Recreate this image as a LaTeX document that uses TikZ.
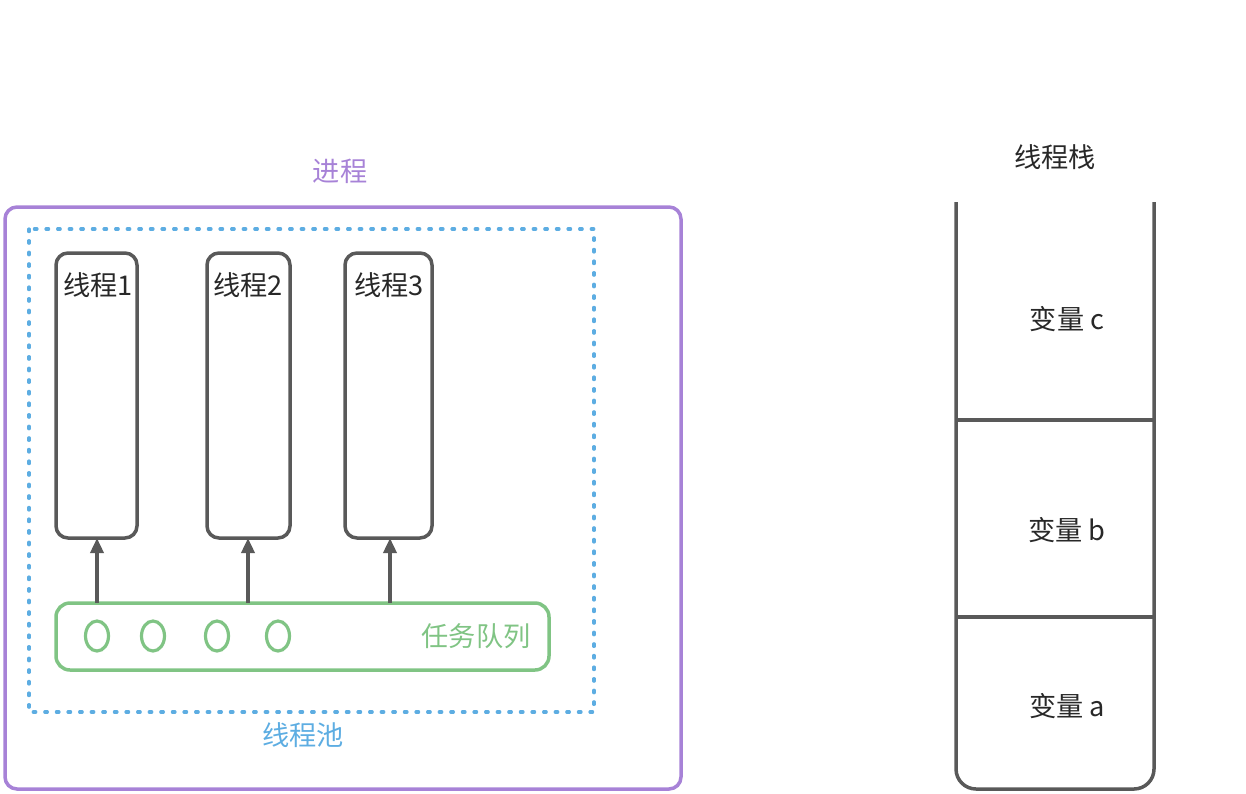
\documentclass[tikz,border=0pt]{standalone}
\usepackage{fontspec}
\setmainfont{Noto Sans CJK SC}
\usetikzlibrary{arrows.meta,shapes.geometric}
\definecolor{procpurple}{RGB}{167,130,215}
\definecolor{poolblue}{RGB}{93,173,226}
\definecolor{queuegreen}{RGB}{128,196,132}
\definecolor{linegray}{RGB}{89,89,89}
\definecolor{textgray}{RGB}{40,40,40}
\begin{document}
\begin{tikzpicture}[
    x=0.5pt, y=-0.5pt,
    thread/.style={draw=linegray, line width=1.75pt, rounded corners=6pt},
    lbl/.style={font=\fontsize{13.6pt}{15pt}\selectfont, text=#1, inner sep=0pt},
    arr/.style={-{Triangle[length=7.5pt,width=6.5pt]}, line width=1.75pt, linegray},
    job/.style={draw=queuegreen, line width=1.6pt, ellipse, minimum width=11.5pt, minimum height=15pt, inner sep=0pt},
]
\useasboundingbox (0,0) rectangle (1246,793);

% process and thread pool
\draw[procpurple, line width=1.75pt, rounded corners=6pt] (5,207) rectangle (681,789);
\node[lbl=procpurple] (proc) at (340,171) {进程};
\draw[poolblue, line width=1.6pt, line cap=round, dash pattern=on 1.3pt off 4.5pt] (29,229) rectangle (594,712);
\node[lbl=poolblue] (pool) at (303,735) {线程池};

% threads
\draw[thread] (56,253) rectangle (137,538);
\draw[thread] (207,253) rectangle (290,538);
\draw[thread] (345,253) rectangle (432,538);
\coordinate (t1) at (97,538);
\coordinate (t2) at (248,538);
\coordinate (t3) at (390,538);
\node[lbl=textgray] (n1) at (98,285) {线程1};
\node[lbl=textgray] (n2) at (248,285) {线程2};
\node[lbl=textgray] (n3) at (389,285) {线程3};

% task queue
\draw[queuegreen, line width=1.75pt, rounded corners=7pt] (56,603) rectangle (549,670);
\coordinate (q1) at (97,603);
\coordinate (q2) at (248,603);
\coordinate (q3) at (390,603);
\foreach \x/\i in {97/1,153/2,217/3,278/4}
    \node[job] (job\i) at (\x,636) {};
\node[lbl=queuegreen] (queue) at (476,636) {任务队列};

\draw[arr] (q1) -- (t1);
\draw[arr] (q2) -- (t2);
\draw[arr] (q3) -- (t3);

% thread stack
\node[lbl=textgray] (stack) at (1055,157) {线程栈};
\draw[linegray, line width=1.75pt, rounded corners=10pt] (956,202) |- (1154,789) -- (1154,202);
\coordinate (sl1) at (956,420);
\coordinate (sr1) at (1154,420);
\coordinate (sl2) at (956,617);
\coordinate (sr2) at (1154,617);
\draw[linegray, line width=1.75pt] (sl1) -- (sr1);
\draw[linegray, line width=1.75pt] (sl2) -- (sr2);
\node[lbl=textgray] (varc) at (1067,319) {变量 c};
\node[lbl=textgray] (varb) at (1067,530) {变量 b};
\node[lbl=textgray] (vara) at (1067,706) {变量 a};
\end{tikzpicture}
\end{document}
